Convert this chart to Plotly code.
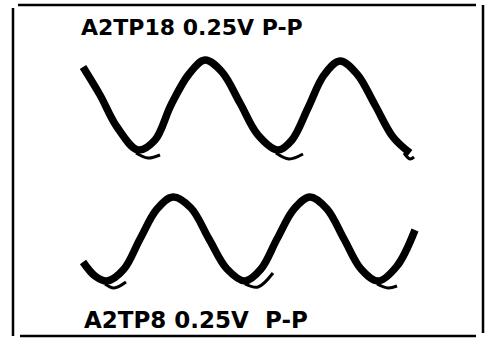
"""Oscilloscope photo: A2TP18 / A2TP8 test-point waveforms, 0.25 V p-p."""
import plotly.graph_objects as go

# Screen units (x: left->right, y: top->bottom)
TOP_X = [83, 100, 117, 138, 155, 171, 189, 205, 222, 240, 258, 278,
         292, 308, 324, 340, 357, 375, 393, 410]
TOP_Y = [67, 95, 127, 150, 140, 105, 74, 60, 72, 103, 135, 150,
         140, 108, 75, 61, 74, 105, 137, 153]

BOT_X = [83, 95, 107, 124, 140, 157, 173, 191, 209, 227, 245, 261,
         277, 294, 310, 327, 344, 361, 378, 397, 415]
BOT_Y = [262, 276, 281, 269, 239, 209, 197, 208, 239, 269, 281, 269,
         239, 209, 197, 209, 239, 269, 281, 266, 230]

# retrace "tails" trailing off each trough
TOP_HOOK_X = [[136, 148, 160], [276, 289, 303], [404, 410, 414]]
TOP_HOOK_Y = [[153, 158, 155], [153, 159, 154], [153, 159, 157]]
BOT_HOOK_X = [[105, 114, 126], [245, 258, 273], [377, 388, 397]]
BOT_HOOK_Y = [[284, 288, 282], [284, 287, 273], [284, 288, 286]]

TOP_LABEL = "A2TP18 0.25V P-P"
BOT_LABEL = "A2TP8 0.25V\u00a0 P-P"

INK = "#000000"

fig = go.Figure()
for xs, ys in ((TOP_X, TOP_Y), (BOT_X, BOT_Y)):
    fig.add_trace(go.Scatter(x=xs, y=ys, mode="lines",
                             line={"color": INK, "width": 7.5, "shape": "spline"},
                             hoverinfo="skip"))
for hx, hy in zip(TOP_HOOK_X + BOT_HOOK_X, TOP_HOOK_Y + BOT_HOOK_Y):
    fig.add_trace(go.Scatter(x=hx, y=hy, mode="lines",
                             line={"color": INK, "width": 3, "shape": "spline"},
                             hoverinfo="skip"))

# frame of the photo
border = {"color": INK, "width": 2.5}
fig.add_shape(type="line", x0=18, x1=476, y0=5, y1=5, line=border)
fig.add_shape(type="line", x0=483, x1=483, y0=5, y1=333, line=border)
fig.add_shape(type="line", x0=20, x1=476, y0=336, y1=336, line=border)
fig.add_shape(type="line", x0=13, x1=13, y0=8, y1=336, line=border)

lbl_font = {"family": "DejaVu Sans", "color": INK, "weight": "bold"}
fig.add_annotation(x=79, y=27, text=TOP_LABEL, showarrow=False,
                   xanchor="left", yanchor="middle",
                   font={**lbl_font, "size": 22})
fig.add_annotation(x=82, y=320, text=BOT_LABEL, showarrow=False,
                   xanchor="left", yanchor="middle",
                   font={**lbl_font, "size": 23})

fig.update_layout(
    width=491, height=339,
    margin={"l": 0, "r": 0, "t": 0, "b": 0},
    paper_bgcolor="white", plot_bgcolor="white",
    showlegend=False,
    xaxis={"range": [0, 491], "visible": False, "fixedrange": True},
    yaxis={"range": [339, 0], "visible": False, "fixedrange": True},
)

# the page body has a default 8px margin; drop it so the figure fills the window
fig.write_html("out.html", config={"displayModeBar": False},
               post_script="document.body.style.margin='0';")
